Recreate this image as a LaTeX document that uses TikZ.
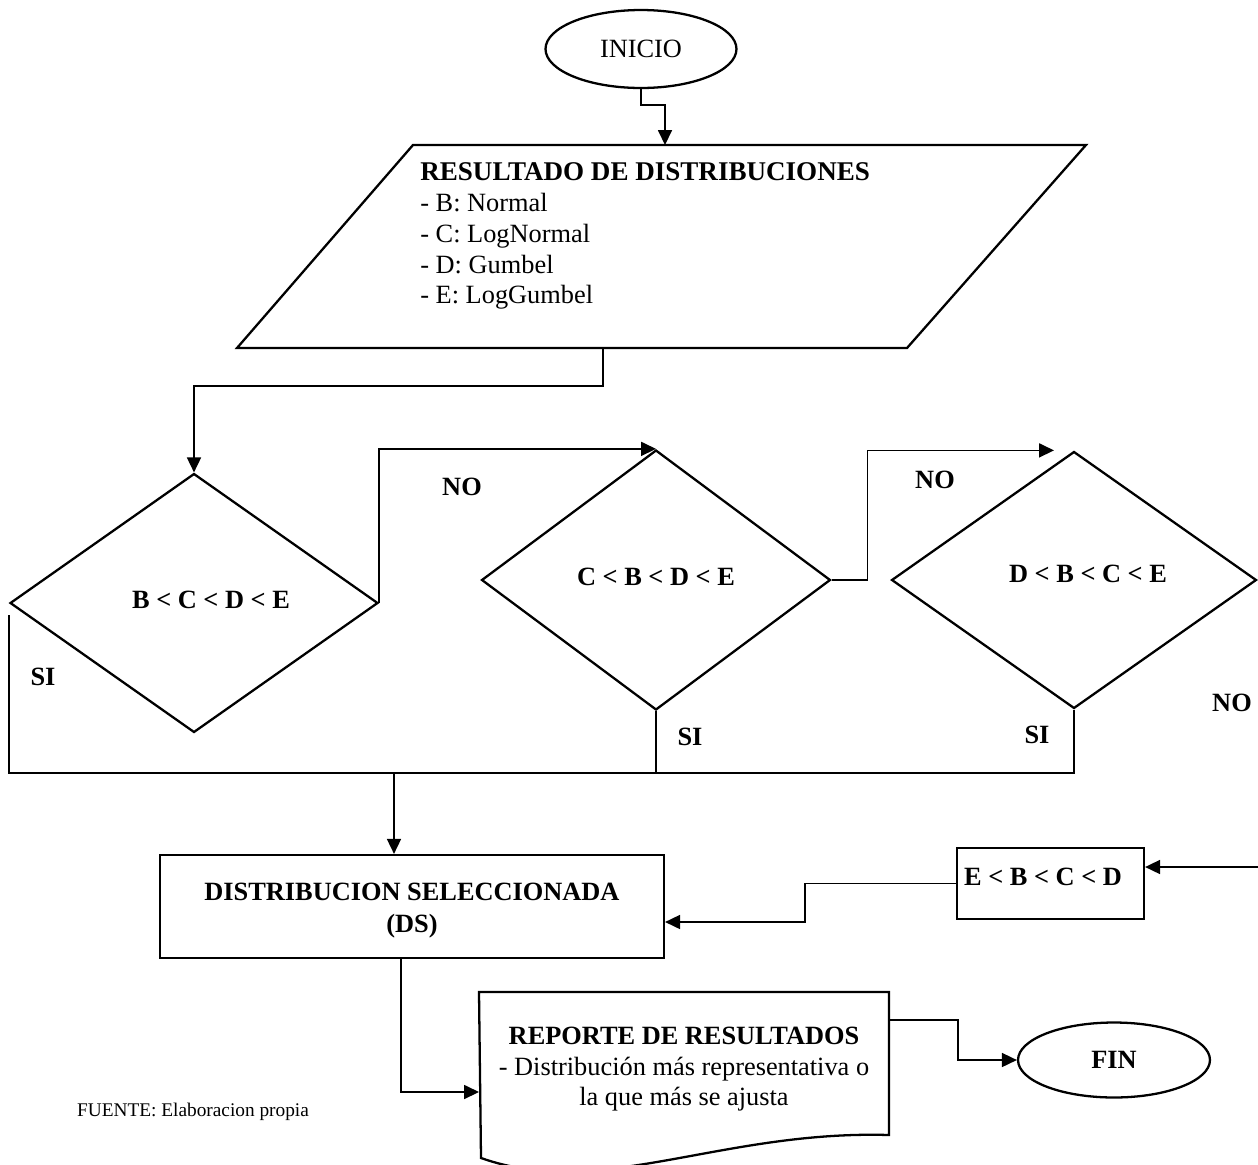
\documentclass[tikz,border=0pt]{standalone}
\usepackage{fontspec}
\setmainfont{Liberation Serif}
\usetikzlibrary{shapes.geometric,arrows.meta,calc}
\begin{document}
\begin{tikzpicture}[x=0.02cm,y=-0.02cm,
  shape line/.style={line width=1.3pt},
  conn/.style={line width=0.8pt},
  arr/.style={conn,-{Triangle[length=8.5pt,width=8pt]}},
  txt/.style={font=\fontsize{15}{17.6}\selectfont, inner sep=0pt},
  btxt/.style={font=\fontsize{15}{17.6}\selectfont\bfseries, inner sep=0pt},
  term/.style={ellipse, draw, shape line, inner sep=0pt},
  decision/.style={diamond, draw, shape line, inner sep=0pt},
  procbox/.style={rectangle, draw, shape line, inner sep=0pt},
]
\useasboundingbox (0,0) rectangle (1258,1164);

% terminals
\node[term, txt, minimum width=3.82cm, minimum height=1.56cm] (inicio) at (641,49) {INICIO};
\node[term, btxt, minimum width=3.84cm, minimum height=1.5cm] (fin) at (1114,1060) {FIN};

% data input (parallelogram)
\draw[shape line] (413,145) -- (1086,145) -- (907,348) -- (237,348) -- cycle;
\coordinate (parTop) at (665,145);
\coordinate (parBot) at (603,348);
\node[txt, anchor=north west, align=left] (data) at (420,162)
  {\textbf{\fontsize{15.4}{17.6}\selectfont RESULTADO DE DISTRIBUCIONES}\\- B: Normal\\- C: LogNormal\\- D: Gumbel\\- E: LogGumbel};

% decisions
\node[decision, minimum width=7.36cm, minimum height=5.18cm] (d1) at (194,603) {};
\node[btxt] (d1t) at (211,600) {B < C < D < E};
\node[decision, minimum width=6.98cm, minimum height=5.2cm] (d2) at (656,580) {};
\node[btxt] (d2t) at (656,577) {C < B < D < E};
\node[decision, minimum width=7.3cm, minimum height=5.14cm] (d3) at (1074,580) {};
\node[btxt] (d3t) at (1088,574) {D < B < C < E};

% process boxes
\node[procbox, minimum width=10.08cm, minimum height=2.06cm] (ds) at (412,906.5) {};
\node[btxt, align=center, font=\fontsize{15}{18.2}\selectfont\bfseries] (dst) at (412,911)
  {DISTRIBUCION SELECCIONADA\\(DS)};
\node[procbox, minimum width=3.74cm, minimum height=1.42cm] (ebox) at (1050.5,883.5) {};
\node[btxt] (ebt) at (1043,877) {E < B < C < D};

% report (document shape)
\draw[shape line] (479,992) -- (889,992) -- (889,1135)
  .. controls (720,1130) and (600,1200) .. (481,1158) -- cycle;
\coordinate (docIn) at (479,1092);
\coordinate (docOut) at (889,1020);
\node[txt, align=center, anchor=north, font=\fontsize{15}{17.2}\selectfont] (rep) at (684,1027)
  {\textbf{REPORTE DE RESULTADOS}\\- Distribución más representativa o\\la que más se ajusta};

% branch labels
\node[btxt] (no1) at (462,487) {NO};
\node[btxt] (no2) at (935,480) {NO};
\node[btxt] (no3) at (1232,703) {NO};
\node[btxt] (si1) at (43,677) {SI};
\node[btxt] (si2) at (690,737) {SI};
\node[btxt] (si3) at (1037,735) {SI};

\node[inner sep=0pt, font=\fontsize{11}{13}\selectfont] (src) at (193,1112) {FUENTE: Elaboracion propia};

% connectors
\draw[arr] (inicio.south) -- ++(0,16) -| (parTop);
\draw[arr] (parBot) -- ++(0,38) -| (d1.north);
\draw[arr] (d1.east) |- (d2.north);
\draw[arr] (d2.east) -- ++(36,0) |- ($(d3.north)+(-20,0)$);

\coordinate (join) at (394,773);
\draw[conn] ($(d1.west)+(0,12)$) |- (join);
\draw[conn] (d3.south) |- (join);
\draw[conn] (d2.south) -- (d2.south |- join);
\draw[arr] (join) -- (join |- ds.north);

\coordinate (edgeR) at (1258,867);
\draw[arr] (edgeR) -- (edgeR -| ebox.east);
\draw[arr] (ebox.west) -- ++(-151,0) |- ($(ds.east)+(0,15.5)$);

\draw[arr] ($(ds.south)+(-11,0)$) |- (docIn);
\draw[arr] (docOut) -- ++(69,0) |- (fin.west);
\end{tikzpicture}
\end{document}
